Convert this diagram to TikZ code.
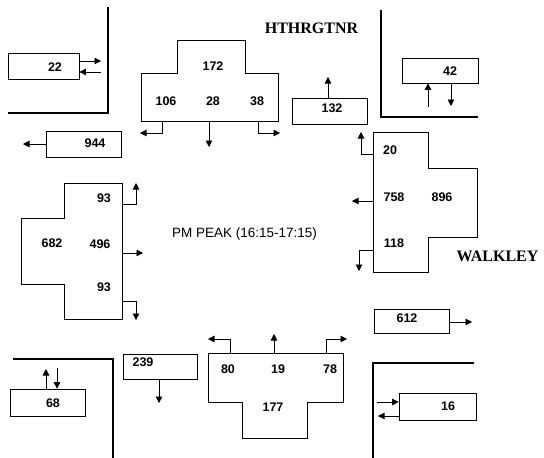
\documentclass[tikz,border=0pt]{standalone}
\usepackage{fontspec}
\setmainfont{Liberation Sans}
\newfontfamily\roadfont{Liberation Serif}
\usetikzlibrary{arrows.meta}
\begin{document}
\begin{tikzpicture}[x=1pt,y=-1pt,
  box/.style={draw,line width=0.7pt,inner sep=0pt},
  shp/.style={draw,line width=0.7pt},
  num/.style={font=\bfseries\fontsize{12.5}{14}\selectfont,inner sep=0pt},
  wall/.style={line width=2.6pt},
  arr/.style={line width=0.7pt,-{Triangle[length=6.5pt,width=6.5pt]}},
  road/.style={font=\roadfont\bfseries\fontsize{16}{18}\selectfont,inner sep=0pt}]
\useasboundingbox (0,0) rectangle (544,458);

% walls (curbs)
\draw[wall] (108,7) -- (108,113) -- (8,113);
\draw[wall] (381,10) -- (381,117) -- (478,117);
\draw[wall] (13,359) -- (113,359) -- (113,458);
\draw[wall] (474,363) -- (373,363) -- (373,458);

% street names and title
\node[road] (hth) at (311.5,28) {HTHRGTNR};
\node[road] (walk) at (497.5,256) {WALKLEY};
\node[font=\fontsize{13.5}{15}\selectfont,inner sep=0pt] (pm) at (244.5,234) {PM PEAK (16:15-17:15)};

% simple boxes
\node[box,minimum width=71pt,minimum height=26pt] (b22) at (43.5,66) {};
\node[box,minimum width=75pt,minimum height=26pt] (b944) at (83.5,144) {};
\node[box,minimum width=75pt,minimum height=26pt] (b132) at (329.5,111) {};
\node[box,minimum width=76pt,minimum height=25pt] (b42) at (440,70.5) {};
\node[box,minimum width=75pt,minimum height=24pt] (b612) at (411.5,321) {};
\node[box,minimum width=75pt,minimum height=27pt] (b68) at (47.5,402.5) {};
\node[box,minimum width=74pt,minimum height=25pt] (b239) at (160,366.5) {};
\node[box,minimum width=77pt,minimum height=27pt] (b16) at (437.5,406.5) {};

\node[num] (t22) at (55,67) {22};
\node[num] (t944) at (95,143) {944};
\node[num] (t132) at (332,108) {132};
\node[num] (t42) at (450,71) {42};
\node[num] (t612) at (407,318) {612};
\node[num] (t68) at (53,403) {68};
\node[num] (t239) at (143,362) {239};
\node[num] (t16) at (448,406) {16};

% box arrows
\draw[arr] (b22.east |- 0,61) -- (101,61);
\draw[arr] (101,72) -- (b22.east |- 0,72);
\draw[arr] (b944.west) -- (23,144);
\draw[arr] (b132.north -| 328,0) -- (328,77);
\draw[arr] (428,107) -- (b42.south -| 428,0);
\draw[arr] (b42.south -| 451,0) -- (451,106);
\draw[arr] (b612.east |- 0,322) -- (472,322);
\draw[arr] (b68.north -| 46,0) -- (46,369);
\draw[arr] (57,368) -- (b68.north -| 57,0);
\draw[arr] (b239.south -| 159,0) -- (159,403);
\draw[arr] (377,402) -- (b16.west |- 0,402);
\draw[arr] (b16.west |- 0,416) -- (378,416);

% top T (Hthrgtnr approach)
\draw[shp] (177,40) -- (245,40) -- (245,73) -- (278,73) -- (278,121) -- (141,121) -- (141,73) -- (177,73) -- cycle;
\node[num] (t172) at (213,66) {172};
\node[num] (t106) at (166,101) {106};
\node[num] (t28) at (213,101) {28};
\node[num] (t38) at (257,101) {38};
\draw[arr] (162,121) -- (162,133) -- (140,133);
\draw[arr] (209,121) -- (209,147);
\draw[arr] (258,121) -- (258,133) -- (280,133);

% right cross (Walkley east approach)
\draw[shp] (373,132) -- (428,132) -- (428,168) -- (477,168) -- (477,237) -- (428,237) -- (428,272) -- (373,272) -- cycle;
\node[num] (t20) at (390,150) {20};
\node[num] (t758) at (394,197) {758};
\node[num] (t896) at (442,197) {896};
\node[num] (t118) at (394,243) {118};
\draw[arr] (373,154) -- (361,154) -- (361,132);
\draw[arr] (373,201) -- (352,201);
\draw[arr] (373,250) -- (359,250) -- (359,271);

% left cross (west approach)
\draw[shp] (64,183) -- (122,183) -- (122,319) -- (64,319) -- (64,284) -- (21,284) -- (21,218) -- (64,218) -- cycle;
\node[num] (t93a) at (104,198) {93};
\node[num] (t682) at (52,243) {682};
\node[num] (t496) at (100,244) {496};
\node[num] (t93b) at (104,287) {93};
\draw[arr] (122,204) -- (136,204) -- (136,183);
\draw[arr] (122,253) -- (143,253);
\draw[arr] (122,301) -- (136,301) -- (136,320);

% bottom T (south approach)
\draw[shp] (208,353) -- (343,353) -- (343,402) -- (307,402) -- (307,438) -- (242,438) -- (242,402) -- (208,402) -- cycle;
\node[num] (t80) at (228,369) {80};
\node[num] (t19) at (278,369) {19};
\node[num] (t78) at (330,369) {78};
\node[num] (t177) at (273,407) {177};
\draw[arr] (230,353) -- (230,339) -- (208,339);
\draw[arr] (274,353) -- (274,334);
\draw[arr] (326,353) -- (326,339) -- (347,339);
\end{tikzpicture}
\end{document}
